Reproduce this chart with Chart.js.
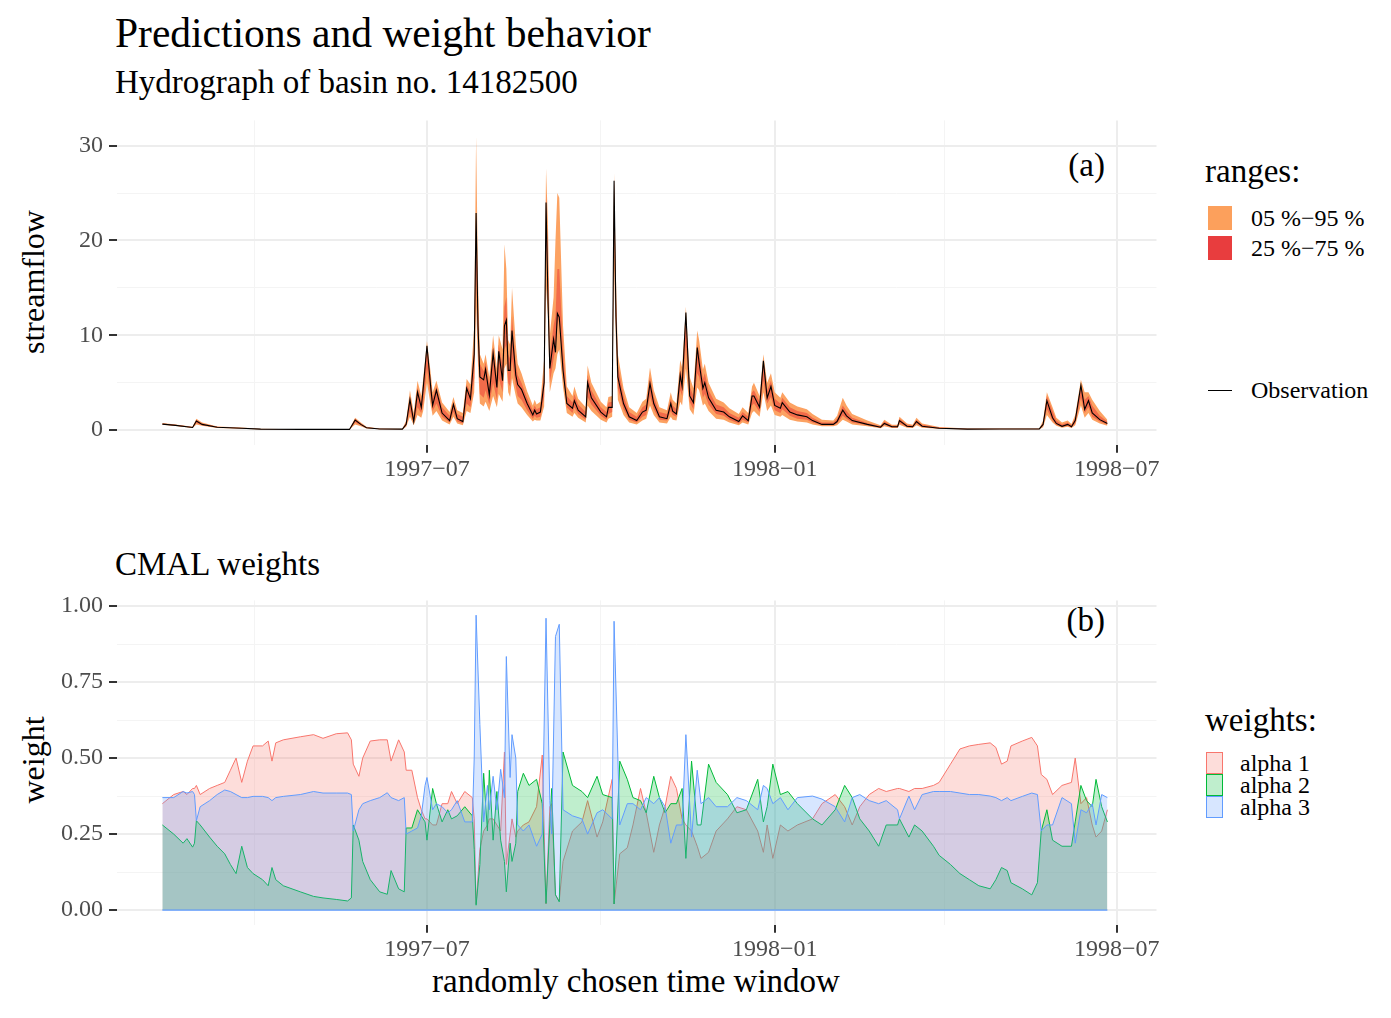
<!DOCTYPE html>
<html>
<head>
<meta charset="utf-8">
<script src="https://cdn.jsdelivr.net/npm/chart.js@4.4.1/dist/chart.umd.min.js"></script>
<style>
  html, body { margin: 0; padding: 0; background: #fff; }
  #page { position: relative; width: 1391px; height: 1018px; overflow: hidden; font-family: "Liberation Serif", "Times New Roman", serif; color: #000; }
  .txt { position: absolute; white-space: nowrap; line-height: 1; }
  canvas { position: absolute; left: 0; }
  .key { position: absolute; box-sizing: border-box; }
</style>
</head>
<body>
<div id="page">
  <div class="txt" style="left:115px; top:13px; font-size:41.5px;">Predictions and weight behavior</div>
  <div class="txt" style="left:115px; top:66px; font-size:33px;">Hydrograph of basin no. 14182500</div>
  <div class="txt" style="left:115px; top:548px; font-size:33px;">CMAL weights</div>
  <div class="txt" style="left:636px; top:965px; font-size:33px; transform:translateX(-50%);">randomly chosen time window</div>
  <div class="txt" style="left:33px; top:282px; font-size:32px; transform:translate(-50%,-50%) rotate(-90deg);">streamflow</div>
  <div class="txt" style="left:33px; top:760px; font-size:32px; transform:translate(-50%,-50%) rotate(-90deg);">weight</div>
  <div class="txt" style="right:286px; top:149px; font-size:33px;">(a)</div>
  <div class="txt" style="right:286px; top:604px; font-size:33px;">(b)</div>

  <div class="txt" style="left:1205px; top:155px; font-size:33px;">ranges:</div>
  <div class="key" style="left:1208px; top:206px; width:24px; height:24px; background:#FCA05C;"></div>
  <div class="key" style="left:1208px; top:236px; width:24px; height:24px; background:#E83D3E;"></div>
  <div class="txt" style="left:1251px; top:206px; font-size:24px;">05 %−95 %</div>
  <div class="txt" style="left:1251px; top:236px; font-size:24px;">25 %−75 %</div>
  <div class="key" style="left:1208px; top:390px; width:24px; height:1px; background:#000;"></div>
  <div class="txt" style="left:1251px; top:378px; font-size:24px;">Observation</div>

  <div class="txt" style="left:1205px; top:704px; font-size:33px;">weights:</div>
  <div class="key" style="left:1206px; top:752px; width:17px; height:22px; background:rgba(248,118,109,0.25); border:1px solid #F8766D;"></div>
  <div class="key" style="left:1206px; top:774px; width:17px; height:22px; background:rgba(0,186,56,0.25); border:1px solid #00BA38;"></div>
  <div class="key" style="left:1206px; top:796px; width:17px; height:22px; background:rgba(97,156,255,0.25); border:1px solid #619CFF;"></div>
  <div class="txt" style="left:1240px; top:751px; font-size:24px;">alpha 1</div>
  <div class="txt" style="left:1240px; top:773px; font-size:24px;">alpha 2</div>
  <div class="txt" style="left:1240px; top:795px; font-size:24px;">alpha 3</div>

  <canvas id="flowChart" width="1200" height="400" style="top:100px;"></canvas>
  <canvas id="weightChart" width="1200" height="400" style="top:580px;"></canvas>
</div>
<script>
// days counted from 1997-01-01
const flowDays = [
  41, 48, 57, 59, 62, 70, 83, 93, 114, 140,
  143, 146, 149, 156, 168, 170, 172, 174, 176, 178,
  179, 181, 183, 184, 186, 189, 193, 195, 197, 200,
  202, 204, 206, 207, 208, 209, 211, 212, 214, 216,
  218, 219, 221, 222, 223, 224, 225, 226, 228, 229,
  231, 234, 237, 238, 239, 241, 243, 244, 245, 246,
  248, 249, 250, 251, 253, 255, 258, 259, 261, 265,
  266, 268, 273, 276, 277, 279, 280, 281, 282, 285,
  288, 292, 295, 297, 299, 301, 304, 308, 310, 311,
  313, 315, 316, 318, 320, 322, 324, 325, 327, 328,
  330, 334, 338, 341, 346, 348, 351, 353, 354, 357,
  359, 361, 363, 365, 368, 369, 373, 377, 382, 385,
  390, 396, 398, 401, 403, 406, 414, 421, 423, 427,
  430, 431, 435, 438, 440, 443, 452, 467, 484, 505,
  507, 509, 512, 514, 517, 520, 522, 524, 527, 529,
  531, 533, 537, 541
];
const observed = [
  0.63, 0.5, 0.28, 0.95, 0.6, 0.3, 0.2, 0.1, 0.07, 0.07,
  1.05, 0.6, 0.25, 0.12, 0.1, 0.6, 3.2, 0.9, 4.0, 2.4,
  4.4, 8.9, 4.5, 2.6, 4.2, 1.8, 1.0, 2.7, 1.2, 0.9,
  4.4, 3.3, 8.0, 22.9, 11, 5.6, 5.3, 6.4, 3.7, 8.1,
  4.5, 8.3, 5.2, 11.0, 11.6, 6.3, 6.3, 10.5, 5.8, 4.8,
  4.3, 2.8, 1.6, 2.1, 1.7, 1.9, 5.0, 24.0, 14, 6.5,
  9.6, 8.2, 12.3, 11.9, 6.3, 2.8, 2.3, 3.1, 2.1, 1.4,
  5.0, 3.4, 1.9, 1.4, 2.4, 2.4, 26.3, 12, 5.6, 2.8,
  1.4, 1.0, 1.9, 2.1, 4.9, 2.8, 1.4, 1.2, 2.8, 2.0,
  1.7, 5.8, 4.6, 12.4, 3.6, 2.9, 8.7, 7.1, 4.4, 5.0,
  3.4, 2.1, 1.9, 1.4, 0.9, 1.5, 1.0, 3.6, 3.6, 2.4,
  7.3, 3.4, 4.6, 2.6, 2.3, 2.9, 1.9, 1.6, 1.4, 1.0,
  0.6, 0.6, 0.9, 2.1, 1.5, 1.0, 0.6, 0.3, 0.7, 0.35,
  0.35, 1.0, 0.4, 0.35, 0.9, 0.4, 0.2, 0.1, 0.12, 0.12,
  0.6, 3.1, 1.3, 0.7, 0.4, 0.6, 0.35, 1.0, 4.7, 2.2,
  3.1, 1.8, 1.1, 0.7
];
const q05 = [
  0.55, 0.42, 0.22, 0.6, 0.45, 0.22, 0.15, 0.07, 0.05, 0.05,
  0.6, 0.4, 0.18, 0.08, 0.07, 0.35, 1.4, 0.5, 1.6, 1.3,
  2.0, 5.0, 2.6, 1.5, 2.0, 1.0, 0.6, 1.4, 0.7, 0.5,
  2.0, 1.8, 4.0, 13, 7, 2.8, 2.5, 3.0, 2.0, 3.6,
  2.4, 3.8, 3.0, 6.5, 7.0, 4.0, 3.5, 5.5, 3.6, 2.8,
  2.4, 1.6, 0.9, 1.1, 1.0, 1.0, 2.5, 15, 12, 4.0,
  6.0, 6.5, 8.0, 8.5, 4.5, 1.8, 1.4, 1.8, 1.3, 0.8,
  2.6, 2.0, 1.1, 0.8, 1.2, 1.4, 17, 9, 3.2, 1.6,
  0.8, 0.6, 1.0, 1.2, 2.6, 1.6, 0.8, 0.7, 1.4, 1.1,
  1.0, 3.0, 2.6, 6.5, 2.2, 1.6, 4.5, 4.2, 2.6, 2.8,
  2.0, 1.2, 1.1, 0.8, 0.5, 0.8, 0.6, 1.8, 2.0, 1.4,
  4.0, 2.0, 2.6, 1.6, 1.4, 1.6, 1.1, 0.9, 0.8, 0.6,
  0.4, 0.4, 0.5, 1.1, 0.9, 0.6, 0.4, 0.2, 0.4, 0.22,
  0.22, 0.55, 0.25, 0.22, 0.5, 0.25, 0.13, 0.07, 0.08, 0.08,
  0.3, 1.6, 0.8, 0.45, 0.25, 0.35, 0.22, 0.5, 2.6, 1.3,
  1.8, 1.1, 0.7, 0.45
];
const q25 = [
  0.6, 0.47, 0.25, 0.75, 0.52, 0.26, 0.17, 0.08, 0.06, 0.06,
  0.8, 0.5, 0.21, 0.1, 0.08, 0.45, 2.0, 0.7, 2.4, 1.8,
  2.8, 6.5, 3.4, 2.0, 2.8, 1.4, 0.8, 1.9, 0.9, 0.7,
  2.8, 2.4, 5.5, 17, 9, 3.8, 3.4, 4.2, 2.7, 5.0,
  3.2, 5.5, 4.0, 8.5, 9.0, 5.0, 4.6, 7.5, 4.6, 3.6,
  3.2, 2.1, 1.2, 1.5, 1.3, 1.4, 3.5, 20, 15, 5.0,
  7.5, 8.5, 11, 12, 6.0, 2.4, 1.8, 2.4, 1.7, 1.1,
  3.5, 2.7, 1.5, 1.1, 1.7, 1.9, 22, 11, 4.4, 2.2,
  1.1, 0.8, 1.4, 1.6, 3.6, 2.2, 1.1, 1.0, 2.0, 1.6,
  1.4, 4.2, 3.6, 9.0, 3.0, 2.2, 6.0, 5.6, 3.4, 3.8,
  2.7, 1.7, 1.5, 1.1, 0.7, 1.1, 0.8, 2.6, 2.8, 1.9,
  5.2, 2.8, 3.5, 2.1, 1.8, 2.2, 1.5, 1.2, 1.1, 0.8,
  0.5, 0.5, 0.7, 1.5, 1.2, 0.8, 0.5, 0.25, 0.55, 0.28,
  0.28, 0.75, 0.32, 0.28, 0.7, 0.32, 0.16, 0.08, 0.1, 0.1,
  0.45, 2.2, 1.0, 0.55, 0.32, 0.45, 0.28, 0.7, 3.4, 1.8,
  2.4, 1.4, 0.9, 0.55
];
const q75 = [
  0.7, 0.55, 0.32, 1.1, 0.7, 0.34, 0.23, 0.12, 0.08, 0.08,
  1.2, 0.7, 0.3, 0.14, 0.12, 0.8, 3.6, 1.4, 4.5, 3.0,
  4.8, 8.8, 5.2, 3.4, 4.6, 2.4, 1.5, 3.0, 1.7, 1.4,
  4.8, 4.0, 9.0, 23, 13, 7.0, 6.2, 7.2, 4.8, 8.8,
  5.6, 9.0, 6.8, 13, 14, 8.0, 7.5, 12, 7.0, 5.8,
  5.0, 3.4, 2.1, 2.6, 2.2, 2.4, 6.0, 25, 18, 8.0,
  11, 12, 17, 17, 8.5, 3.6, 2.9, 3.8, 2.7, 1.9,
  5.8, 4.2, 2.4, 1.9, 2.9, 3.0, 26.5, 14, 6.8, 3.6,
  1.9, 1.4, 2.4, 2.7, 5.6, 3.5, 1.9, 1.7, 3.3, 2.6,
  2.2, 6.4, 5.6, 12, 4.6, 3.6, 9.0, 8.2, 5.4, 6.0,
  4.2, 2.7, 2.4, 1.8, 1.3, 1.9, 1.4, 4.0, 4.2, 3.0,
  7.4, 4.2, 5.2, 3.3, 2.8, 3.4, 2.4, 2.0, 1.8, 1.3,
  0.8, 0.8, 1.2, 2.6, 2.0, 1.3, 0.75, 0.4, 0.9, 0.45,
  0.45, 1.2, 0.55, 0.45, 1.1, 0.55, 0.26, 0.13, 0.15, 0.15,
  0.75, 3.6, 2.0, 1.0, 0.6, 0.8, 0.5, 1.3, 4.8, 3.2,
  3.6, 2.6, 1.5, 0.9
];
const q95 = [
  0.75, 0.6, 0.36, 1.2, 0.8, 0.38, 0.26, 0.14, 0.09, 0.09,
  1.3, 0.8, 0.35, 0.16, 0.14, 1.0, 4.2, 1.8, 5.2, 3.6,
  5.4, 9.4, 6.0, 4.0, 5.2, 2.9, 1.9, 3.5, 2.1, 1.8,
  5.4, 4.8, 11, 31, 16, 8.0, 7.0, 8.0, 5.6, 10,
  6.5, 10, 8.5, 19.6, 17, 9.5, 9.0, 15, 9.0, 7.0,
  6.0, 4.1, 2.6, 3.2, 2.7, 3.0, 7.5, 27.6, 22, 10,
  14, 20, 25, 24.5, 11, 4.6, 3.6, 4.6, 3.3, 2.4,
  6.8, 5.0, 3.0, 2.4, 3.5, 3.6, 27.1, 16, 8.0, 4.4,
  2.4, 1.8, 3.0, 3.3, 6.6, 4.2, 2.4, 2.1, 4.0, 3.2,
  2.8, 7.4, 6.6, 13, 5.6, 4.4, 10.5, 9.5, 6.4, 7.0,
  5.0, 3.3, 2.9, 2.3, 1.7, 2.4, 1.8, 4.6, 5.0, 3.6,
  8.0, 5.0, 6.0, 4.0, 3.4, 4.0, 2.9, 2.5, 2.2, 1.7,
  1.1, 1.0, 1.5, 3.4, 2.6, 1.7, 1.0, 0.5, 1.1, 0.55,
  0.55, 1.4, 0.7, 0.55, 1.3, 0.7, 0.32, 0.16, 0.18, 0.18,
  1.0, 4.0, 2.4, 1.3, 0.8, 1.0, 0.65, 1.6, 5.3, 4.0,
  4.0, 3.2, 2.0, 1.1
];

const weightDays = [
  41, 47, 52, 54, 57, 58, 59, 61, 66, 70,
  74, 77, 80, 83, 86, 89, 94, 97, 99, 101,
  105, 114, 121, 126, 133, 139, 141, 142, 145, 147,
  151, 156, 160, 162, 166, 169, 170, 173, 176, 178,
  180, 181, 184, 186, 189, 192, 194, 197, 201, 205,
  206, 207, 209, 211, 213, 214, 216, 218, 220, 222,
  223, 225, 226, 228, 229, 232, 235, 239, 242, 244,
  246, 247, 249, 251, 253, 258, 263, 266, 271, 274,
  279, 280, 283, 287, 290, 294, 297, 301, 304, 307,
  310, 313, 316, 318, 321, 324, 326, 330, 334, 340,
  345, 350, 356, 359, 361, 364, 368, 372, 377, 385,
  390, 397, 402, 406, 410, 415, 420, 424, 430, 431,
  436, 439, 443, 449, 452, 458, 463, 468, 473, 479,
  482, 485, 488, 490, 496, 501, 504, 506, 509, 512,
  517, 522, 524, 527, 530, 533, 535, 538, 541
];
const alpha1 = [
  0.35, 0.38, 0.39, 0.38, 0.40, 0.40, 0.41, 0.38, 0.40, 0.41,
  0.42, 0.46, 0.50, 0.42, 0.49, 0.54, 0.54, 0.556, 0.49, 0.55,
  0.56, 0.57, 0.577, 0.565, 0.58, 0.583, 0.56, 0.48, 0.44, 0.50,
  0.556, 0.56, 0.56, 0.49, 0.56, 0.52, 0.46, 0.46, 0.37, 0.33,
  0.30, 0.30, 0.28, 0.28, 0.35, 0.35, 0.39, 0.35, 0.39, 0.37,
  0.30, 0.02, 0.20, 0.26, 0.28, 0.30, 0.30, 0.28, 0.26, 0.52,
  0.15, 0.25, 0.30, 0.24, 0.26, 0.28, 0.29, 0.34, 0.51, 0.02,
  0.34, 0.35, 0.05, 0.03, 0.16, 0.26, 0.29, 0.36, 0.24, 0.29,
  0.43, 0.02, 0.185, 0.205, 0.28, 0.40, 0.32, 0.19, 0.28, 0.34,
  0.44, 0.40, 0.30, 0.28, 0.26, 0.21, 0.17, 0.19, 0.26, 0.30,
  0.34, 0.33, 0.26, 0.19, 0.28, 0.17, 0.28, 0.26, 0.28, 0.30,
  0.35, 0.38, 0.34, 0.28, 0.34, 0.38, 0.40, 0.39, 0.40, 0.40,
  0.39, 0.40, 0.40, 0.41, 0.42, 0.48, 0.53, 0.54, 0.545, 0.55,
  0.535, 0.48, 0.49, 0.54, 0.556, 0.568, 0.54, 0.446, 0.43, 0.38,
  0.41, 0.42, 0.50, 0.35, 0.37, 0.28, 0.24, 0.26, 0.33
];
const alpha2 = [
  0.28, 0.25, 0.22, 0.235, 0.207, 0.22, 0.294, 0.28, 0.24, 0.21,
  0.185, 0.15, 0.12, 0.21, 0.14, 0.12, 0.10, 0.08, 0.14, 0.10,
  0.08, 0.06, 0.045, 0.04, 0.035, 0.03, 0.04, 0.28, 0.23, 0.16,
  0.10, 0.06, 0.052, 0.13, 0.07, 0.06, 0.27, 0.27, 0.33, 0.31,
  0.29, 0.23, 0.40, 0.35, 0.29, 0.33, 0.30, 0.31, 0.34, 0.31,
  0.20, 0.016, 0.15, 0.45, 0.26, 0.46, 0.23, 0.39, 0.23, 0.16,
  0.06, 0.22, 0.16, 0.22, 0.39, 0.45, 0.41, 0.43, 0.35, 0.022,
  0.28, 0.40, 0.05, 0.027, 0.52, 0.41, 0.39, 0.37, 0.44, 0.38,
  0.37, 0.02, 0.49, 0.43, 0.37, 0.36, 0.32, 0.44, 0.37, 0.32,
  0.35, 0.35, 0.40, 0.17, 0.49, 0.28, 0.28, 0.48, 0.42, 0.38,
  0.32, 0.33, 0.43, 0.29, 0.34, 0.48, 0.38, 0.39, 0.35, 0.30,
  0.28, 0.33, 0.41, 0.37, 0.30, 0.26, 0.21, 0.28, 0.28, 0.30,
  0.24, 0.28, 0.26, 0.21, 0.18, 0.15, 0.12, 0.10, 0.08, 0.07,
  0.10, 0.14, 0.13, 0.09, 0.07, 0.05, 0.09, 0.26, 0.33, 0.23,
  0.21, 0.21, 0.29, 0.41, 0.36, 0.34, 0.43, 0.34, 0.29
];
const alpha3 = [
  0.37, 0.37, 0.39, 0.385, 0.39, 0.38, 0.294, 0.34, 0.36, 0.38,
  0.395, 0.39, 0.38, 0.37, 0.37, 0.374, 0.374, 0.37, 0.36, 0.37,
  0.374, 0.38, 0.39, 0.385, 0.385, 0.385, 0.38, 0.26, 0.33, 0.35,
  0.36, 0.37, 0.386, 0.37, 0.36, 0.37, 0.25, 0.26, 0.27, 0.31,
  0.41, 0.436, 0.33, 0.35, 0.34, 0.32, 0.33, 0.36, 0.29, 0.29,
  0.50, 0.97, 0.61, 0.29, 0.41, 0.33, 0.44, 0.33, 0.463, 0.37,
  0.834, 0.436, 0.577, 0.50, 0.28, 0.26, 0.28, 0.21, 0.25, 0.96,
  0.36, 0.25, 0.90, 0.94, 0.33, 0.31, 0.30, 0.25, 0.32, 0.33,
  0.30, 0.95, 0.28, 0.35, 0.35, 0.33, 0.37, 0.35, 0.37, 0.34,
  0.22, 0.28, 0.28, 0.577, 0.24, 0.46, 0.35, 0.37, 0.34, 0.34,
  0.37, 0.36, 0.33, 0.41, 0.40, 0.35, 0.37, 0.33, 0.37, 0.375,
  0.365, 0.34, 0.29, 0.37, 0.38, 0.36, 0.35, 0.36, 0.33, 0.30,
  0.375, 0.33, 0.38, 0.39, 0.39, 0.39, 0.385, 0.38, 0.38, 0.375,
  0.37, 0.36, 0.37, 0.36, 0.374, 0.385, 0.38, 0.26, 0.28, 0.28,
  0.37, 0.35, 0.22, 0.33, 0.32, 0.35, 0.28, 0.38, 0.37
];

const dateTickDays = [181, 365, 546];
const dateTickLabels = ['1997−07', '1998−01', '1998−07'];
const dateMinorDays = [90, 273, 455];
const flowTicks = [0, 10, 20, 30];
const flowMinorTicks = [5, 15, 25];
const weightTicks = [0, 0.25, 0.5, 0.75, 1];
const weightTickLabels = ['0.00', '0.25', '0.50', '0.75', '1.00'];
const weightMinorTicks = [0.125, 0.375, 0.625, 0.875];

const tickFont = { family: 'Liberation Serif', size: 24 };
const tickGrey = '#4D4D4D';

function pts(days, vals) {
    return days.map((d, i) => ({ x: d, y: vals[i] }));
}

function gridFor(majors) {
    const isMajor = c => c.tick && majors.includes(c.tick.value);
    return {
        color: c => isMajor(c) ? '#EDEDED' : '#F4F4F4',
        lineWidth: c => isMajor(c) ? 2 : 1,
        tickColor: c => isMajor(c) ? '#333333' : 'rgba(0,0,0,0)',
        tickWidth: 2,
        tickLength: 8
    };
}

function timeAxis() {
    return {
        type: 'linear', min: 17, max: 567,
        afterBuildTicks: s => {
            s.ticks = dateMinorDays.concat(dateTickDays).sort((a, b) => a - b).map(v => ({ value: v }));
        },
        afterFit: s => { s.height = 55.2; },
        border: { display: false },
        grid: gridFor(dateTickDays),
        ticks: {
            autoSkip: false, maxRotation: 0, minRotation: 0, padding: 3,
            font: tickFont, color: tickGrey,
            callback: v => {
                const i = dateTickDays.indexOf(v);
                return i >= 0 ? dateTickLabels[i] : '';
            }
        }
    };
}

function valueAxis(min, max, majors, minors, labels) {
    return {
        type: 'linear', min: min, max: max,
        afterBuildTicks: s => {
            s.ticks = majors.concat(minors).sort((a, b) => a - b).map(v => ({ value: v }));
        },
        afterFit: s => { s.width = 117; },
        border: { display: false },
        grid: gridFor(majors),
        ticks: {
            autoSkip: false, padding: 6,
            font: tickFont, color: tickGrey,
            callback: v => {
                const i = majors.indexOf(v);
                return i >= 0 ? labels[i] : '';
            }
        }
    };
}

const baseOptions = (yAxis) => ({
    responsive: false,
    animation: false,
    layout: { padding: { top: 18.5, right: 43.5, left: 0, bottom: 0 } },
    elements: { point: { radius: 0 }, line: { tension: 0 } },
    plugins: { legend: { display: false }, tooltip: { enabled: false } },
    scales: { x: timeAxis(), y: yAxis }
});

new Chart(document.getElementById('flowChart'), {
    type: 'line',
    data: {
        datasets: [
            { label: 'Observation', data: pts(flowDays, observed), borderColor: '#000000', borderWidth: 1.1, fill: false },
            { label: '25 %−75 %', data: pts(flowDays, q75), borderWidth: 0, borderColor: 'rgba(0,0,0,0)', backgroundColor: '#F26B4A', fill: 2 },
            { label: 'q25', data: pts(flowDays, q25), borderWidth: 0, borderColor: 'rgba(0,0,0,0)', fill: false },
            { label: '05 %−95 %', data: pts(flowDays, q95), borderWidth: 0, borderColor: 'rgba(0,0,0,0)', backgroundColor: '#FCA262', fill: 4 },
            { label: 'q05', data: pts(flowDays, q05), borderWidth: 0, borderColor: 'rgba(0,0,0,0)', fill: false }
        ]
    },
    options: baseOptions(valueAxis(-1.552, 32.66, flowTicks, flowMinorTicks, flowTicks.map(String)))
});

const zeroEdge = {
    id: 'zeroEdge',
    afterDatasetsDraw(chart) {
        const { ctx, scales: { x, y } } = chart;
        ctx.save();
        ctx.strokeStyle = '#619CFF';
        ctx.lineWidth = 1.3;
        ctx.beginPath();
        ctx.moveTo(x.getPixelForValue(weightDays[0]), y.getPixelForValue(0));
        ctx.lineTo(x.getPixelForValue(weightDays[weightDays.length - 1]), y.getPixelForValue(0));
        ctx.stroke();
        ctx.restore();
    }
};

new Chart(document.getElementById('weightChart'), {
    type: 'line',
    data: {
        datasets: [
            { label: 'alpha 3', data: pts(weightDays, alpha3), borderColor: '#619CFF', borderWidth: 1, backgroundColor: 'rgba(97,156,255,0.25)', fill: 'origin' },
            { label: 'alpha 2', data: pts(weightDays, alpha2), borderColor: '#00BA38', borderWidth: 1, backgroundColor: 'rgba(0,186,56,0.25)', fill: 'origin' },
            { label: 'alpha 1', data: pts(weightDays, alpha1), borderColor: '#F8766D', borderWidth: 1, backgroundColor: 'rgba(248,118,109,0.25)', fill: 'origin' }
        ]
    },
    options: baseOptions(valueAxis(-0.0484, 1.0186, weightTicks, weightMinorTicks, weightTickLabels)),
    plugins: [zeroEdge]
});
</script>
</body>
</html>
